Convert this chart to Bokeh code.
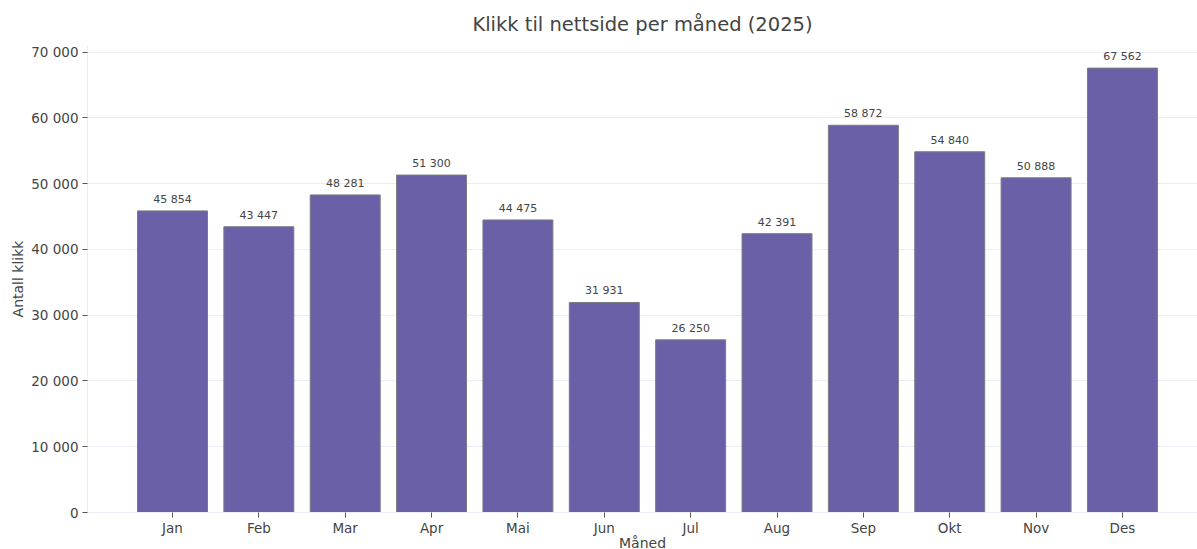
from bokeh.plotting import figure
from bokeh.models import Range1d, FixedTicker, ColumnDataSource, LabelSet
from bokeh.core.properties import value
from bokeh.embed import file_html
from bokeh.resources import INLINE

months = ["Jan", "Feb", "Mar", "Apr", "Mai", "Jun", "Jul", "Aug", "Sep", "Okt", "Nov", "Des"]
clicks = [45854, 43447, 48281, 51300, 44475, 31931, 26250, 42391, 58872, 54840, 50888, 67562]
y_ticks = [0, 10000, 20000, 30000, 40000, 50000, 60000, 70000]
y_tick_labels = ["0", "10 000", "20 000", "30 000", "40 000", "50 000", "60 000", "70 000"]

def fmt(v):
    return f"{v:,}".replace(",", " ")

xs = list(range(len(months)))
src = ColumnDataSource(dict(x=xs, y=clicks, label=[fmt(v) for v in clicks]))

FONT = "DejaVu Sans"
TXT = "#444444"

p = figure(width=1197, height=549, output_backend="svg", toolbar_location=None,
           x_range=Range1d(-0.984, 11.869), y_range=Range1d(0, 71000),
           min_border_left=87, min_border_right=0, min_border_top=45, min_border_bottom=0,
           frame_width=1110, frame_height=467,
           title="Klikk til nettside per måned (2025)")

p.title.align = "center"
p.title.text_font = FONT
p.title.text_font_size = "19.5px"
p.title.text_font_style = "normal"
p.title.text_color = TXT
p.title.standoff = 19

p.vbar(x="x", top="y", width=0.81, source=src, fill_color="#6a60a8",
       line_color="#7a7a80", line_width=1)

labels = LabelSet(x="x", y="y", text="label", source=src, text_align="center",
                  text_baseline="bottom", y_offset=5, text_font_size="11px",
                  text_color=TXT, text_font=value(FONT))
p.add_layout(labels)

p.xaxis.ticker = FixedTicker(ticks=xs)
p.xaxis.major_label_overrides = {i: m for i, m in enumerate(months)}
p.yaxis.ticker = FixedTicker(ticks=y_ticks)
p.yaxis.major_label_overrides = {t: l for t, l in zip(y_ticks, y_tick_labels)}

p.xaxis.axis_label = "Måned"
p.yaxis.axis_label = "Antall klikk"
for ax in (p.xaxis[0], p.yaxis[0]):
    ax.axis_line_color = "#ececf8"
    ax.major_tick_line_color = "#555555"
    ax.major_tick_in = 0
    ax.major_tick_out = 5
    ax.minor_tick_line_color = None
    ax.major_label_text_font = FONT
    ax.major_label_text_font_size = "13.5px"
    ax.major_label_text_color = TXT
    ax.axis_label_text_font = FONT
    ax.axis_label_text_font_size = "14px"
    ax.axis_label_text_font_style = "normal"
    ax.axis_label_text_color = TXT
p.yaxis.major_label_standoff = 4
p.yaxis.axis_label_standoff = 2
p.xaxis.major_label_standoff = 2
p.xaxis.axis_label_standoff = -4

p.xgrid.grid_line_color = None
p.ygrid.grid_line_color = "#ececf8"
p.ygrid.grid_line_width = 1
p.outline_line_color = None

open("out.html", "w").write(file_html(p, INLINE))
